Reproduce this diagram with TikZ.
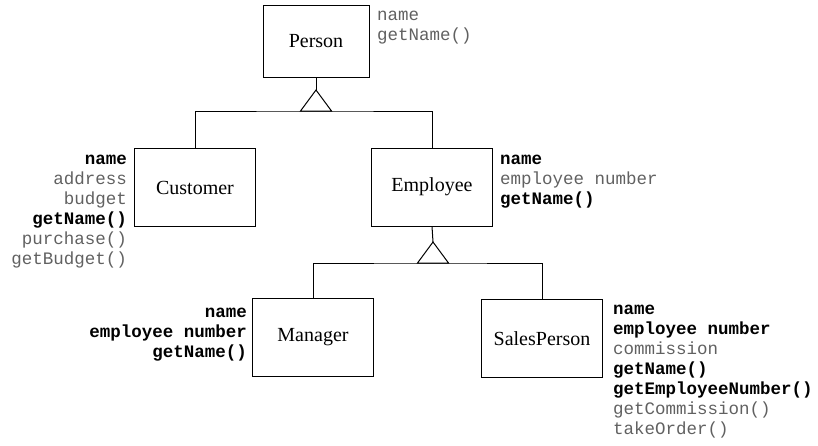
\documentclass[tikz,border=0pt]{standalone}
\usepackage{fontspec}
\setmainfont{Liberation Serif}
\setmonofont{Liberation Mono}
\usepackage{tikz}
\usetikzlibrary{positioning}
\definecolor{owngray}{gray}{0.38}
\newcommand{\inh}[1]{\textbf{#1}}
\newcommand{\own}[1]{\textcolor{owngray}{#1}}
\begin{document}
\begin{tikzpicture}[x=1pt,y=-1pt]
        \tikzstyle{class} = [draw, line width=1pt, minimum width=121pt, minimum height=78pt, font=\fontsize{20}{24}\selectfont]
        \tikzstyle{members} = [inner sep=0pt, font=\fontsize{17.5}{20}\selectfont\ttfamily, execute at begin node=\strut]
        \useasboundingbox (0,0) rectangle (818,445);
        \node[class, minimum width=106pt, minimum height=72pt] (person) at (316,41) {Person};
        \node[class] (customer) at (195,187.5) {Customer};
        \node[class] (employee) at (432,187) {Employee};
        \node[class] (manager) at (313,337.5) {Manager};
        \node[class] (sales) at (542,338.5) {SalesPerson};
        \coordinate (ptop) at (316,90);
        \coordinate (pbar) at (316,111);
        \coordinate (etop) at (433,242);
        \coordinate (ebar) at (433,263);
        \begin{scope}[line width=1pt]
        \foreach \from/\to in {person/ptop, employee/etop}
            \draw (\from.south) -- (\to);
        \foreach \tip in {ptop, etop}
            \draw (\tip) -- ++(-15.5,21) -- ++(31,0) -- cycle;
        \draw (customer.north) |- (pbar) -| (employee.north);
        \draw (manager.north) |- (ebar) -| (sales.north);
        \end{scope}
        \node[members, anchor=north west, align=left] (personm) at (377,11)
            {\own{name}\\ \own{getName()}};
        \node[members, anchor=north east, align=right] (customerm) at (127,155)
            {\inh{name}\\ \own{address}\\ \own{budget}\\ \inh{getName()}\\ \own{purchase()}\\ \own{getBudget()}};
        \node[members, anchor=north west, align=left] (employeem) at (500,155)
            {\inh{name}\\ \own{employee number}\\ \inh{getName()}};
        \node[members, anchor=north east, align=right] (managerm) at (247,308)
            {\inh{name}\\ \inh{employee number}\\ \inh{getName()}};
        \node[members, anchor=north west, align=left] (salesm) at (613,305)
            {\inh{name}\\ \inh{employee number}\\ \own{commission}\\ \inh{getName()}\\ \inh{getEmployeeNumber()}\\ \own{getCommission()}\\ \own{takeOrder()}};
\end{tikzpicture}
\end{document}
